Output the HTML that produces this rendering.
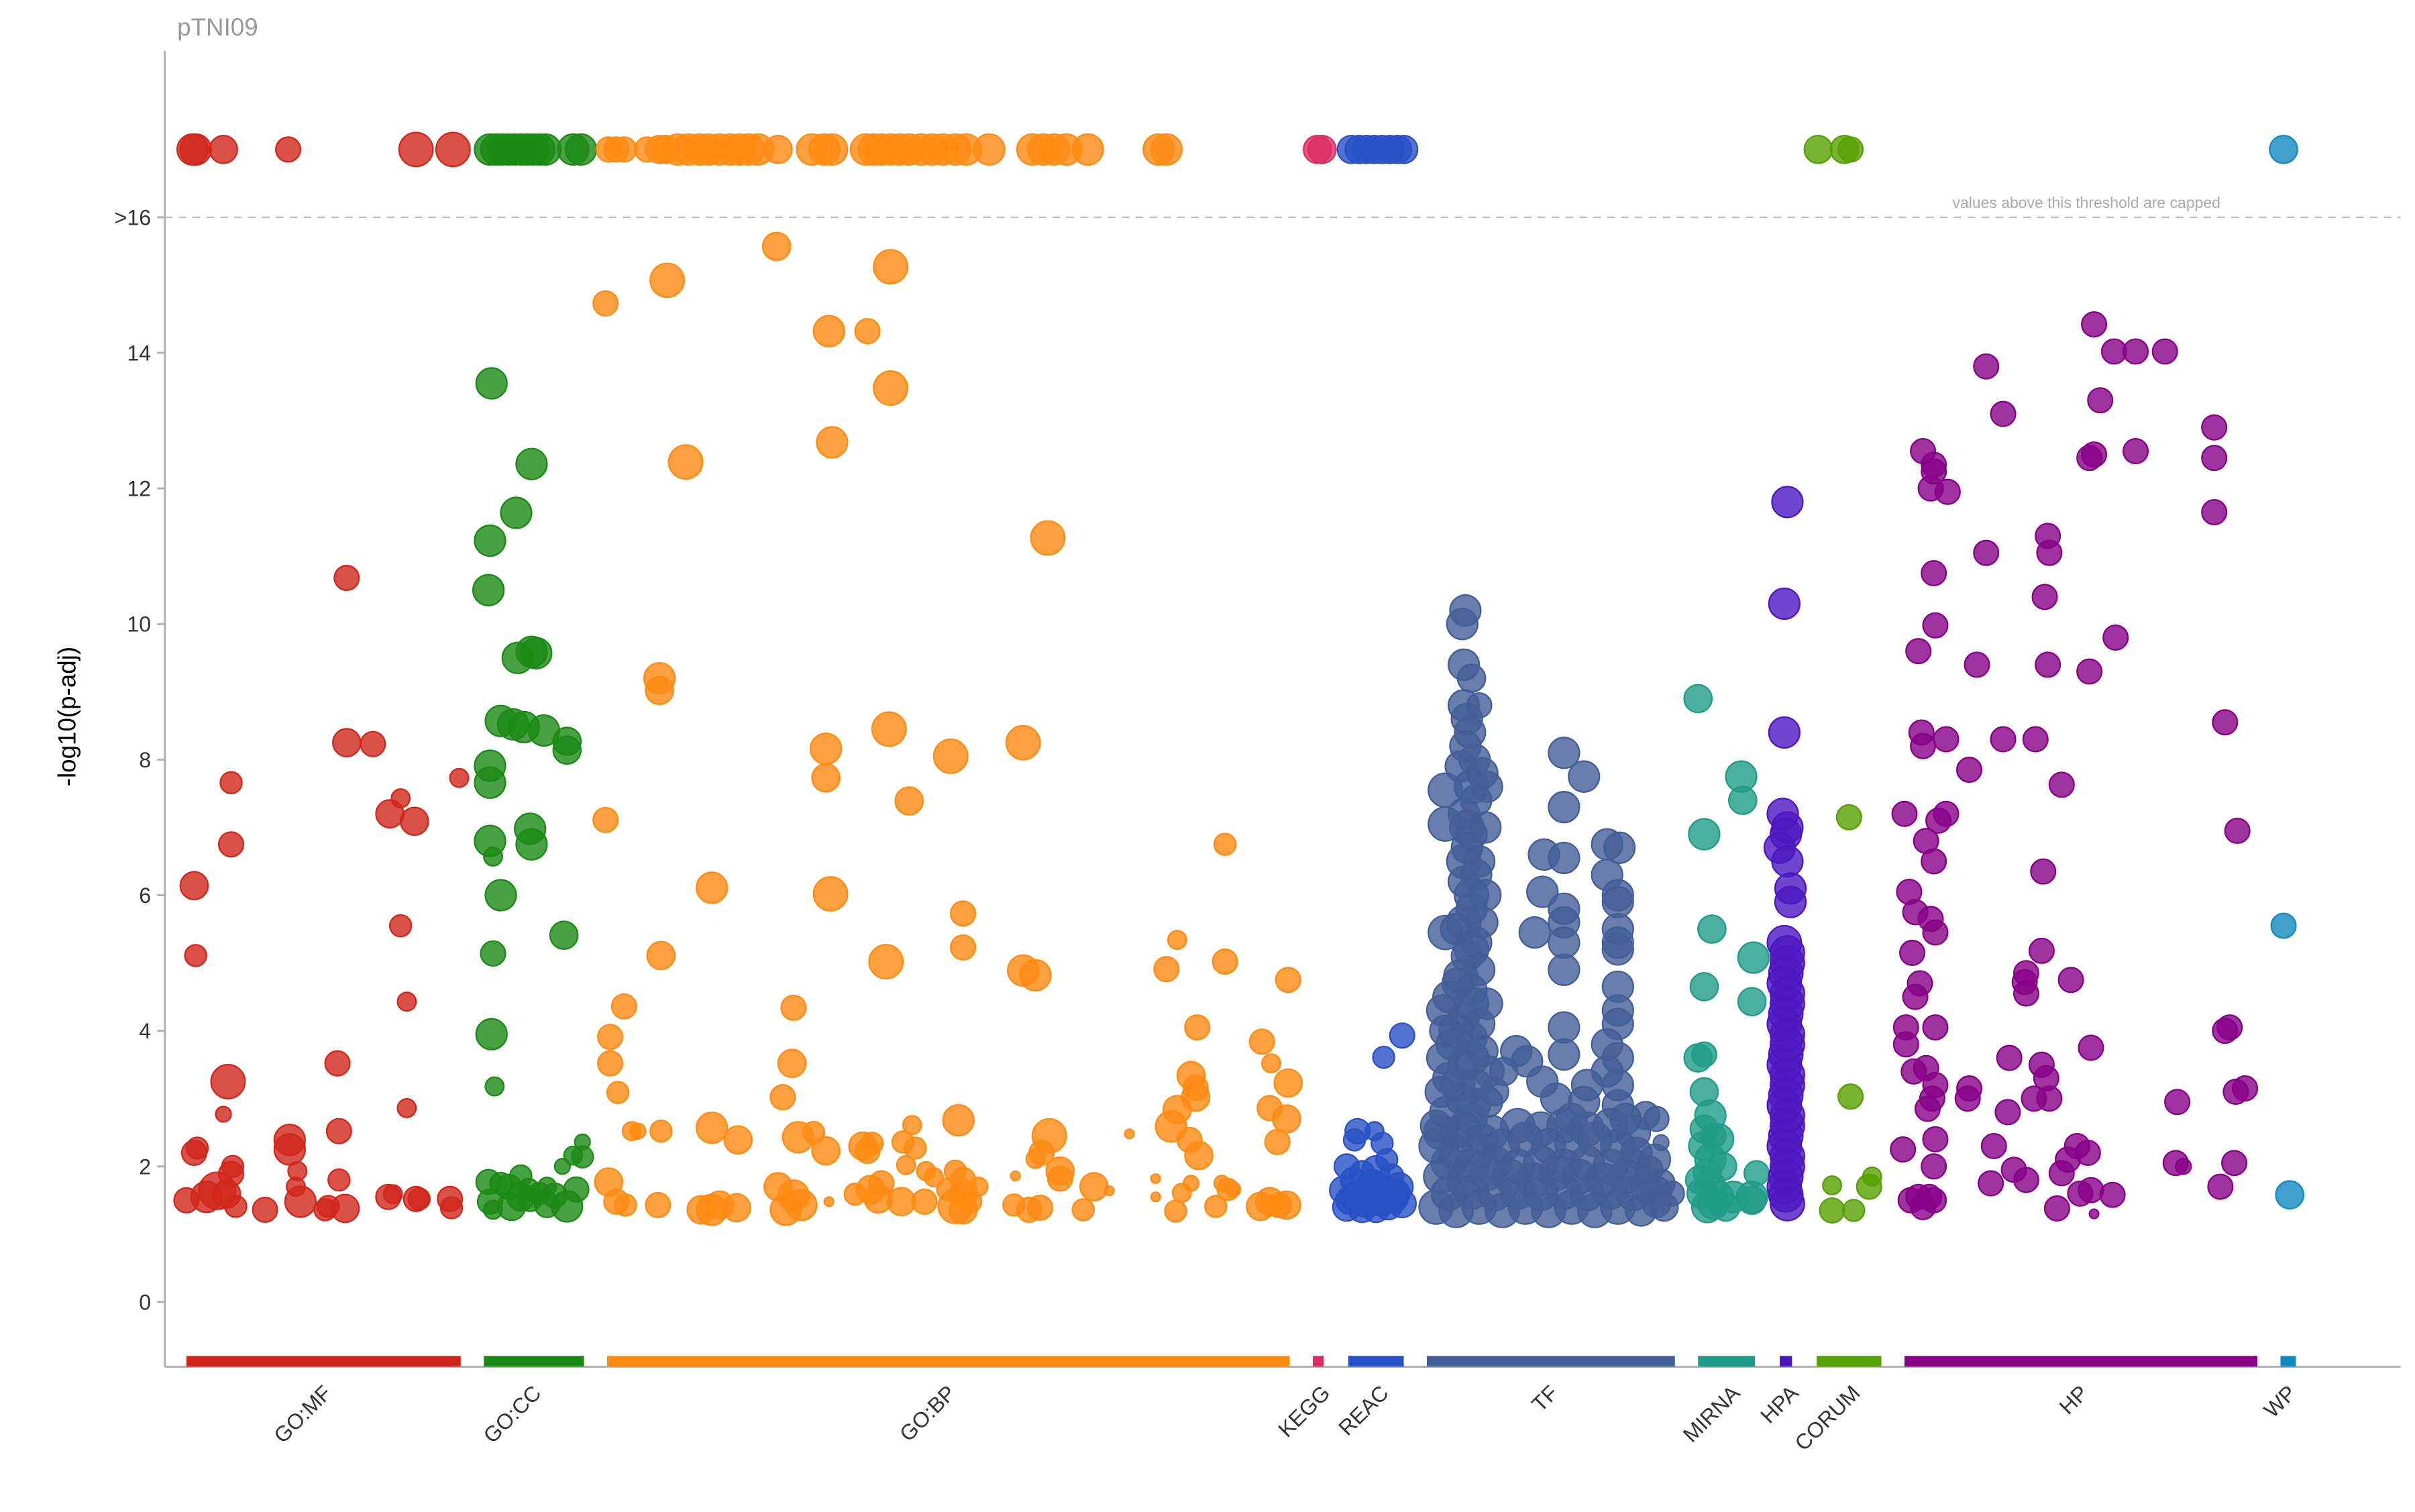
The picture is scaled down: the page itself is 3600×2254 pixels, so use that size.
<!DOCTYPE html>
<html><head><meta charset="utf-8"><style>
html,body{margin:0;padding:0;background:#fff;}
svg{display:block;font-family:"Liberation Sans",Arial,sans-serif;}
</style></head><body>
<svg id="chart" width="3600" height="2254" viewBox="0 0 1567.3 981.3" xmlns="http://www.w3.org/2000/svg">
<text x="115" y="23" font-size="16" fill="#999">pTNI09</text>
<g id="axes"></g>
<g id="bars"></g>
<g id="points"></g>
</svg>
<script>
const yTicks=[0,2,4,6,8,10,12,14];
const capValue=17;
const catNames=["GO:MF","GO:CC","GO:BP","KEGG","REAC","TF","MIRNA","HPA","CORUM","HP","WP"];
const catColors=["#d1261a","#1a8a14","#ff8a10","#dd2e63","#2850c4","#435e97","#1f9c88","#4e16c0","#56a000","#870087","#1388bf"];
const catStart=[121,314,394,852,875,926,1102,1155,1179,1236,1480];
const catEnd=[299,379,837,859,911,1087,1139,1163,1221,1465,1490];
const catLabelPos=[216,352,621,864,902,1012,1130,1168,1208,1356,1491];
const capped=[
[[125,10],[127,10],[145,9],[187,8],[270,11],[294,11]],
[[318,10],[322,10],[326,10],[330,10],[334,10],[338,10],[342,10],[346,10],[350,10],[354,10],[372,10],[377,10]],
[[395,8],[400,8],[405,8],[420,8],[428,9],[432,9],[440,10],[447,10],[454,10],[460,10],[467,10],[474,10],[480,10],[486,10],[492,10],[505,9],[527,10],[535,10],[540,10],[562,10],[567,10],[572,10],[578,10],[584,10],[590,10],[598,10],[605,10],[612,10],[620,10],[627,10],[642,10],[670,10],[677,10],[684,10],[692,10],[706,10],[752,10],[757,10]],
[[855,9],[858,9]],
[[877,9],[882,9],[887,9],[892,9],[897,9],[902,9],[907,9],[911,9]],
[],[],[],
[[1180,9],[1197,9],[1201,8]],
[],
[[1482,9]]
];
const pts=[
// GO:MF
[[126,6.14,9],[127,5.11,7],[121,1.50,8],[126,2.20,8],[128,2.27,7],[134,1.55,10],[141,1.64,12],[147,1.59,9],[150,1.89,8],[151,2.00,7],[153,1.41,7],[145,2.77,5],[148,3.25,11],[150,6.75,8],[150,7.66,7],[172,1.36,8],[188,2.39,10],[188,2.25,10],[193,1.93,6],[192,1.70,6],[195,1.48,10],[213,1.41,7],[219,3.52,8],[220,2.52,8],[220,1.80,7],[225,10.68,8],[225,8.25,9],[242,8.23,8],[252,1.55,8],[255,1.59,6],[253,7.20,9],[260,7.43,6],[260,5.55,7],[264,4.43,6],[264,2.86,6],[269,7.09,9],[270,1.52,8],[272,1.52,7],[292,1.52,8],[293,1.39,7],[298,7.73,6],[224,1.38,9],[211,1.36,7]],
// GO:CC
[[319,13.55,10],[345,12.36,10],[335,11.64,10],[318,11.23,10],[317,10.5,10],[336,9.5,10],[345,9.59,10],[348,9.57,10],[325,8.57,10],[333,8.52,10],[340,8.48,10],[353,8.43,10],[368,8.27,9],[368,8.14,9],[318,7.91,10],[318,7.66,10],[344,6.98,10],[318,6.8,10],[345,6.75,10],[320,6.57,6],[325,6.0,10],[320,5.14,8],[366,5.41,9],[319,3.95,10],[321,3.18,6],[378,2.36,5],[372,2.16,6],[378,2.14,7],[365,2.0,5],[317,1.77,8],[325,1.75,7],[330,1.7,8],[338,1.86,7],[343,1.66,7],[355,1.7,6],[360,1.57,8],[318,1.48,8],[332,1.41,9],[344,1.52,8],[355,1.43,8],[368,1.41,10],[374,1.66,8],[320,1.36,6],[338,1.55,9],[350,1.6,7]],
// GO:BP
[[504,15.57,9],[578,15.27,11],[433,15.07,11],[393,14.73,8],[538,14.32,10],[563,14.32,8],[578,13.48,11],[540,12.68,10],[445,12.39,11],[680,11.27,11],[428,9.2,10],[428,9.02,9],[577,8.45,11],[536,8.16,10],[664,8.25,11],[617,8.05,11],[536,7.73,9],[590,7.39,9],[393,7.11,8],[462,6.11,10],[539,6.02,11],[625,5.73,8],[625,5.23,8],[429,5.11,9],[575,5.02,11],[664,4.89,10],[672,4.82,10],[405,4.36,8],[515,4.34,8],[396,3.91,8],[396,3.52,8],[514,3.52,9],[401,3.09,7],[508,3.02,8],[622,2.68,10],[410,2.52,6],[414,2.52,5],[429,2.52,7],[462,2.57,10],[479,2.39,9],[518,2.43,10],[528,2.5,7],[536,2.23,9],[560,2.3,9],[563,2.23,8],[566,2.34,7],[586,2.36,7],[592,2.61,6],[594,2.27,7],[588,2.02,6],[681,2.45,11],[676,2.2,8],[672,2.11,6],[659,1.86,3],[688,1.93,9],[688,1.82,8],[601,1.93,6],[606,1.84,6],[615,1.66,7],[620,1.93,7],[625,1.8,8],[635,1.7,6],[710,1.7,9],[720,1.64,3],[733,2.48,3],[750,1.82,3],[750,1.55,3],[395,1.77,9],[400,1.48,8],[406,1.43,7],[427,1.43,8],[455,1.36,9],[462,1.36,10],[467,1.43,9],[478,1.39,9],[505,1.7,9],[515,1.57,10],[520,1.43,10],[510,1.36,10],[538,1.48,3],[555,1.59,7],[565,1.66,9],[570,1.52,9],[572,1.75,8],[585,1.48,9],[600,1.48,8],[620,1.41,11],[625,1.59,9],[625,1.36,9],[630,1.48,7],[658,1.43,7],[668,1.36,8],[675,1.39,8],[703,1.36,7],
[757,4.91,8],[764,5.34,6],[795,6.75,7],[795,5.02,8],[836,4.75,8],[777,4.05,8],[773,3.34,9],[776,3.16,8],[776,3.02,9],[764,2.84,9],[760,2.59,10],[772,2.39,8],[778,2.16,9],[819,3.84,8],[825,3.52,6],[836,3.23,9],[824,2.86,8],[835,2.7,9],[829,2.36,8],[767,1.61,6],[773,1.75,5],[763,1.34,7],[789,1.41,7],[793,1.75,5],[797,1.66,7],[800,1.66,5],[818,1.41,9],[824,1.48,9],[830,1.43,8],[835,1.43,9]],
// KEGG
[],
// REAC
[[898,3.61,7],[910,3.93,8],[881,2.52,8],[879,2.39,7],[892,2.52,6],[897,2.34,7],[874,2.0,8],[884,1.9,8],[893,1.95,9],[903,1.85,8],[908,1.7,9],[872,1.65,9],[880,1.55,10],[888,1.6,10],[896,1.5,10],[904,1.55,10],[910,1.45,9],[874,1.4,9],[884,1.38,9],[893,1.38,9],[901,1.42,9],[878,1.8,8],[890,1.75,9],[900,2.1,7],[886,1.48,10],[898,1.62,10],[876,1.5,9],[892,1.72,9],[906,1.6,9]],
// TF
[[951,10.2,10],[949,10.0,10],[950,9.4,10],[955,9.2,9],[950,8.8,10],[960,8.8,8],[952,8.6,10],[954,8.4,10],[951,8.2,10],[957,8.0,10],[948,7.9,10],[962,7.8,10],[965,7.6,10],[938,7.55,11],[958,7.4,10],[950,7.2,10],[938,7.05,11],[964,7.0,10],[955,6.9,10],[952,6.7,10],[960,6.5,10],[958,6.3,10],[950,6.2,10],[964,6.0,10],[955,5.8,10],[962,5.6,10],[938,5.45,11],[945,5.5,10],[958,5.3,10],[952,5.1,10],[960,4.9,10],[946,4.7,10],[955,4.6,10],[940,4.5,10],[965,4.4,10],[936,4.3,10],[950,4.2,10],[960,4.1,10],[938,4.0,10],[955,3.9,10],[942,3.8,10],[962,3.7,10],[936,3.6,10],[950,3.5,10],[966,3.4,10],[940,3.3,10],[958,3.2,10],[935,3.1,10],[948,3.0,10],[965,2.95,10],[970,3.1,9],[976,3.4,9],[984,3.7,10],[938,2.8,10],[955,2.7,10],[932,2.6,10],[945,2.5,10],[962,2.4,10],
[955,7.6,11],[952,7.0,11],[950,6.5,11],[955,6.0,11],[950,5.6,11],[955,5.2,11],[948,4.8,11],[955,4.4,11],[945,4.0,11],[955,3.6,11],[946,3.2,11],[956,2.9,11],
[1015,8.1,10],[1028,7.75,10],[1015,7.3,10],[1002,6.6,10],[1015,6.55,10],[1001,6.05,10],[1015,5.8,10],[1015,5.6,10],[996,5.45,10],[1015,5.3,10],[1015,4.9,10],[1015,4.05,10],[1015,3.65,10],[991,3.55,10],[1001,3.25,10],[1030,3.2,10],[1010,3.0,10],[1028,2.95,10],[1020,2.7,10],
[1043,6.75,10],[1051,6.7,10],[1043,6.3,10],[1050,6.0,10],[1050,5.9,10],[1050,5.5,10],[1050,5.3,10],[1050,5.2,10],[1050,4.65,10],[1050,4.3,10],[1050,4.1,10],[1043,3.8,10],[1050,3.6,10],[1043,3.4,10],[1050,3.2,10],[1050,2.9,10],[1055,2.7,10],[1068,2.75,9],[1075,2.7,8],[1078,2.35,5],[1070,1.95,9],[1078,1.75,9],[1085,1.6,8],[1080,1.4,9],
[935,2.5,11],[950,2.55,11],[968,2.5,11],[985,2.6,11],[1000,2.55,11],[1015,2.6,11],[1030,2.55,11],[1045,2.6,11],[1060,2.5,11],
[932,2.3,11],[945,2.2,11],[960,2.25,11],[975,2.3,11],[990,2.4,11],[1005,2.3,11],[1020,2.35,11],[1035,2.4,11],[1050,2.3,11],[1062,2.2,10],
[940,2.05,11],[955,2.0,11],[970,2.05,11],[985,2.0,11],[1000,2.05,11],[1015,2.0,11],[1030,2.05,11],[1045,2.0,11],[1060,2.0,11],[1074,2.1,10],
[935,1.85,11],[950,1.8,11],[965,1.9,11],[980,1.85,11],[995,1.8,11],[1010,1.9,11],[1025,1.85,11],[1040,1.8,11],[1055,1.85,11],[1068,1.7,10],
[940,1.6,11],[955,1.62,11],[970,1.6,11],[985,1.62,11],[1000,1.6,11],[1015,1.62,11],[1030,1.6,11],[1045,1.62,11],[1060,1.6,11],[1075,1.62,10],
[932,1.4,11],[945,1.35,11],[960,1.4,11],[975,1.35,11],[990,1.4,11],[1005,1.35,11],[1020,1.4,11],[1035,1.35,11],[1050,1.4,11],[1065,1.35,10],[1075,1.45,9]],
// MIRNA
[[1102,8.9,9],[1130,7.75,10],[1131,7.4,9],[1106,6.9,10],[1111,5.5,9],[1138,5.08,10],[1106,4.65,9],[1137,4.43,9],[1102,3.6,9],[1106,3.65,8],[1106,3.1,9],[1110,2.75,10],[1112,2.45,8],[1115,2.4,10],[1105,2.3,9],[1118,2.0,9],[1108,1.9,9],[1140,1.9,8],[1105,1.6,10],[1115,1.55,10],[1125,1.55,10],[1137,1.55,10],[1108,1.4,10],[1120,1.4,9],[1137,1.5,9],[1110,2.1,10],[1103,1.8,9],[1110,1.7,10],[1112,1.45,10],[1106,2.55,9]],
// HPA
[[1160,11.8,10],[1158,10.3,10],[1158,8.4,10],[1157,7.2,10],[1160,7.0,10],[1155,6.7,10],[1160,6.5,10],[1162,6.1,10],[1162,5.9,10],[1158,5.3,11],[1160,5.0,11],[1158,4.7,11],[1160,4.4,11],[1158,4.1,11],[1160,3.8,11],[1158,3.5,11],[1160,3.2,11],[1158,2.9,11],[1160,2.6,11],[1158,2.3,11],[1160,2.0,11],[1158,1.7,11],[1160,1.45,11],
[1159,6.9,10],[1160,5.15,11],[1159,4.85,11],[1160,4.55,11],[1159,4.25,11],[1160,3.95,11],[1159,3.65,11],[1160,3.35,11],[1159,3.05,11],[1160,2.75,11],[1159,2.45,11],[1160,2.15,11],[1159,1.85,11],[1159,1.58,11]],
// CORUM
[[1200,7.15,8],[1201,3.03,8],[1189,1.72,6],[1215,1.85,6],[1213,1.7,8],[1189,1.35,8],[1203,1.35,7]],
// HP
[[1359,14.42,8],[1372,14.02,8],[1386,14.02,8],[1405,14.02,8],[1289,13.8,8],[1300,13.1,8],[1363,13.3,8],[1248,12.55,8],[1386,12.55,8],[1359,12.5,8],[1356,12.45,8],[1255,12.35,8],[1255,12.25,8],[1253,12.0,8],[1264,11.95,8],[1289,11.05,8],[1329,11.3,8],[1330,11.05,8],[1255,10.75,8],[1327,10.4,8],[1256,9.98,8],[1373,9.8,8],[1245,9.6,8],[1283,9.4,8],[1329,9.4,8],[1356,9.3,8],[1247,8.4,8],[1248,8.2,8],[1263,8.3,8],[1300,8.3,8],[1321,8.3,8],[1278,7.85,8],[1338,7.63,8],[1236,7.2,8],[1263,7.2,8],[1258,7.1,8],[1250,6.8,8],[1255,6.5,8],[1326,6.35,8],[1239,6.05,8],[1243,5.75,8],[1253,5.65,8],[1256,5.45,8],[1241,5.15,8],[1325,5.18,8],[1315,4.85,8],[1314,4.72,8],[1344,4.75,8],[1246,4.7,8],[1315,4.55,8],[1243,4.5,8],[1237,4.05,8],[1256,4.05,8],[1237,3.8,8],[1304,3.6,8],[1357,3.75,8],[1250,3.45,8],[1325,3.5,8],[1328,3.3,8],[1242,3.4,8],[1256,3.2,8],[1278,3.15,8],[1254,3.0,8],[1277,3.0,8],[1320,3.0,8],[1330,3.0,8],[1251,2.85,8],[1303,2.8,8],[1256,2.4,8],[1294,2.3,8],[1235,2.25,8],[1348,2.3,8],[1355,2.2,8],[1255,2.0,8],[1307,1.95,8],[1338,1.9,8],[1342,2.1,8],[1315,1.8,8],[1292,1.75,8],[1350,1.6,8],[1357,1.65,8],[1371,1.58,8],[1240,1.5,8],[1245,1.55,8],[1252,1.55,8],[1255,1.5,8],[1248,1.4,8],[1335,1.38,8],[1359,1.3,3],
[1437,12.9,8],[1437,12.45,8],[1437,11.65,8],[1444,8.55,8],[1452,6.95,8],[1413,2.95,8],[1444,4.0,8],[1447,4.05,8],[1457,3.15,8],[1451,3.1,8],[1412,2.05,8],[1417,2.0,5],[1450,2.05,8],[1441,1.7,8]],
// WP
[[1482,5.55,8],[1486,1.58,9]]
];

const NS="http://www.w3.org/2000/svg";
const plotLeft=107,plotRight=1558,plotTop=33,plotBottom=887;
function xScale(t){return plotLeft+(t-107)*(plotRight-plotLeft)/(1558-107);}
function yScale(v){return 845-44*v;}
function mk(tag,attrs,parent){const e=document.createElementNS(NS,tag);for(const k in attrs)e.setAttribute(k,attrs[k]);parent.appendChild(e);return e;}
const axes=document.getElementById('axes');
const yl=mk('line',{x1:plotLeft,y1:plotTop,x2:plotLeft,y2:plotBottom,stroke:'#b0b0b0','stroke-width':1.3},axes);


const xl=mk('line',{x1:plotLeft,y1:plotBottom,x2:plotRight,y2:plotBottom,stroke:'#b0b0b0','stroke-width':1.3},axes);


const tickVals=yTicks.concat([16]);
tickVals.forEach(v=>{
  const y=yScale(v);
  const tk=mk('line',{x1:plotLeft-5,y1:y,x2:plotLeft,y2:y,stroke:'#b0b0b0','stroke-width':1.3},axes);
  
  
  const t=mk('text',{x:plotLeft-9,y:y+5,'font-size':14,fill:'#333','text-anchor':'end'},axes);
  t.textContent=v===16?'>16':String(v);
  
  
});
const dl=mk('line',{x1:plotLeft,y1:yScale(16),x2:plotRight,y2:yScale(16),stroke:'#bdbdbd','stroke-width':1,'stroke-dasharray':'5,4'},axes);


const note=mk('text',{x:1441,y:yScale(16)-6,'font-size':10,fill:'#aaa','text-anchor':'end'},axes);
note.textContent='values above this threshold are capped';


const yt=mk('text',{x:0,y:0,'font-size':16,fill:'#000','text-anchor':'middle',transform:'translate(49,465) rotate(-90)'},axes);
yt.textContent='-log10(p-adj)';



const bars=document.getElementById('bars');
catNames.forEach((n,i)=>{
  const x0=xScale(catStart[i]),x1=xScale(catEnd[i]);
  const r=mk('rect',{x:x0,y:880,width:x1-x0,height:7,fill:catColors[i]},bars);
  
  
  const lx=xScale(catLabelPos[i]);
  const t=mk('text',{x:0,y:0,'font-size':14,fill:'#333','text-anchor':'end',transform:'translate('+lx+',905) rotate(-45)'},bars);
  t.textContent=n;
  
  
});

const pg=document.getElementById('points');
function dot(cx,cy,r,col){
  const c=mk('circle',{cx:cx,cy:cy,r:r,fill:col,'fill-opacity':0.8,stroke:col,'stroke-width':1},pg);
  
  
}
catNames.forEach((n,i)=>{
  capped[i].forEach(p=>dot(xScale(p[0]),yScale(capValue),p[1],catColors[i]));
  pts[i].forEach(p=>dot(xScale(p[0]),yScale(p[1]),p[2],catColors[i]));
});
</script>
</body></html>
